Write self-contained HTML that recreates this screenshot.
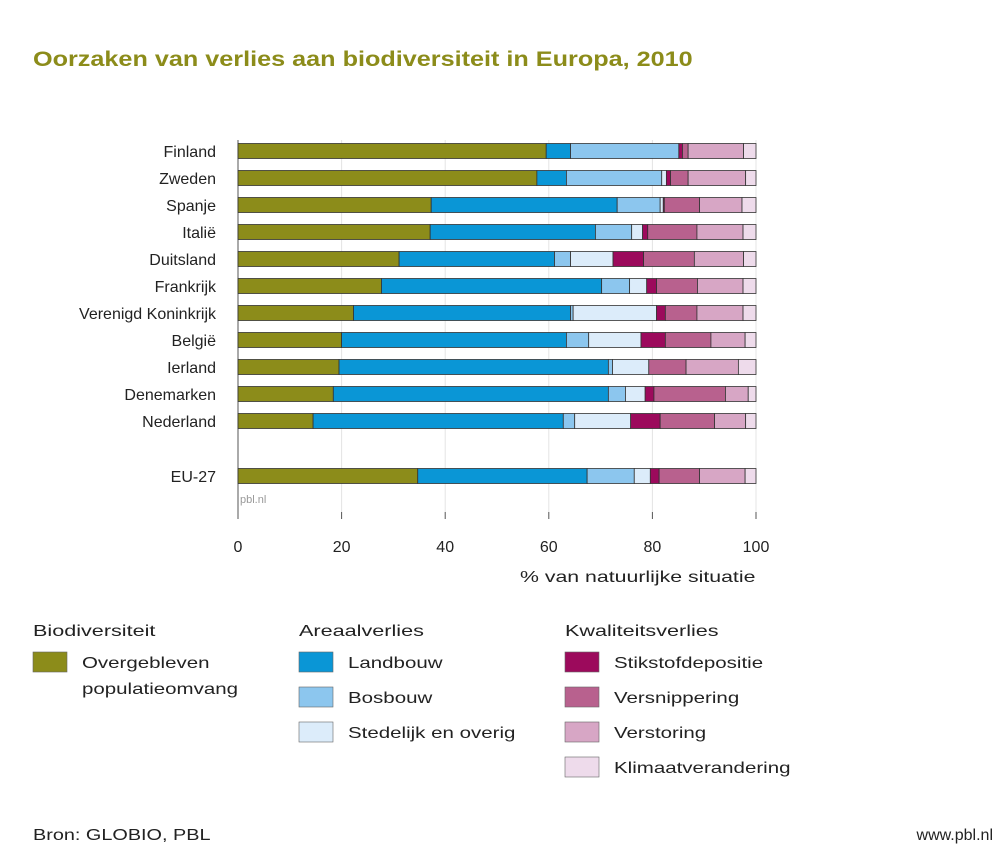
<!DOCTYPE html>
<html><head><meta charset="utf-8"><style>
body{margin:0;background:#fff;width:1003px;height:858px;overflow:hidden;font-family:"Liberation Sans","DejaVu Sans",sans-serif;}
svg text{font-family:"Liberation Sans","DejaVu Sans",sans-serif;}
</style></head><body>
<svg id="c" width="1003" height="858">
<text class="w" data-f="1.2" x="33" y="66" font-size="21" font-weight="bold" fill="#8c8c1a">Oorzaken van verlies aan biodiversiteit in Europa, 2010</text>
<g id="grid"></g><g id="bars"></g><g id="axis"></g><g id="legend"></g>
<text x="240" y="503" font-size="11" fill="#999">pbl.nl</text>
<text class="w" data-f="1.33" x="520" y="582" font-size="16" fill="#222">% van natuurlijke situatie</text>
<text class="w" data-f="1.24" x="33" y="840" font-size="16" fill="#222">Bron: GLOBIO, PBL</text>
<text x="993" y="840" font-size="16" text-anchor="end" fill="#222">www.pbl.nl</text>
</svg>
<script>
const countries=["Finland","Zweden","Spanje","Italië","Duitsland","Frankrijk","Verenigd Koninkrijk","België","Ierland","Denemarken","Nederland","EU-27"];
const overgebleven=[59.5,57.7,37.3,37.1,31.1,27.7,22.3,20.0,19.5,18.4,14.5,34.7];
const landbouw=[4.7,5.7,35.9,31.9,30.0,42.5,41.9,43.4,52.0,53.1,48.3,32.7];
const bosbouw=[20.9,18.4,8.3,7.0,3.1,5.4,0.5,4.3,0.8,3.3,2.2,9.1];
const stedelijk=[0,0.9,0.6,2.1,8.2,3.3,16.1,10.1,7.0,3.8,10.8,3.1];
const stikstof=[0.7,0.8,0.2,1.0,5.9,1.9,1.7,4.7,0,1.7,5.7,1.7];
const versnippering=[1.1,3.4,6.8,9.5,9.8,7.9,6.1,8.8,7.2,13.8,10.5,7.8];
const verstoring=[10.7,11.1,8.2,8.9,9.5,8.8,8.9,6.6,10.1,4.4,6.0,8.8];
const klimaat=[2.4,2.0,2.7,2.5,2.4,2.5,2.5,2.1,3.4,1.5,2.0,2.1];
const ticks=[0,20,40,60,80,100];
const series=[overgebleven,landbouw,bosbouw,stedelijk,stikstof,versnippering,verstoring,klimaat];
const seriesNames=["overgebleven","landbouw","bosbouw","stedelijk","stikstof","versnippering","verstoring","klimaat"];
const colors=["#8c8c1a","#0a96d6","#8cc6ee","#dcecfa","#9c0a5c","#b8618e","#d7a6c5","#eedbeb"];
const NS="http://www.w3.org/2000/svg";
const X0=238,X1=756,x=v=>X0+(X1-X0)*v/100;
const yc=i=>i<11?151+27*i:476;
const BH=15;
function mk(t,a,p){const e=document.createElementNS(NS,t);for(const k in a)e.setAttribute(k,a[k]);p.appendChild(e);return e;}
const grid=document.getElementById('grid'),bars=document.getElementById('bars'),axis=document.getElementById('axis'),leg=document.getElementById('legend');
ticks.forEach(t=>{
 const l=mk('line',{x1:x(t),x2:x(t),y1:140,y2:512,stroke:t==0?'#555':'#e4e4e4','stroke-width':1},grid);
 
 
 const tl=mk('line',{x1:x(t),x2:x(t),y1:512,y2:519,stroke:'#555'},axis);
 
 
 const tx=mk('text',{x:x(t),y:552,'font-size':16,'text-anchor':'middle',fill:'#222'},axis);
 tx.textContent=t;
 
 
});
countries.forEach((c,i)=>{
 const lab=mk('text',{x:216,y:yc(i)+6,'font-size':16,'text-anchor':'end',fill:'#222'},bars);
 lab.textContent=c;
 
 
 let acc=0;
 series.forEach((s,k)=>{
  const v=s[i];
  const r=mk('rect',{x:x(acc),y:yc(i)-BH/2,width:Math.max(0,x(acc+v)-x(acc)),height:BH,fill:colors[k],stroke:'#333','stroke-width':0.8},bars);
  
  
  acc+=v;
 });
});
const legItems=[
 [33,"Biodiversiteit",[[0,"Overgebleven","populatieomvang"]]],
 [299,"Areaalverlies",[[1,"Landbouw"],[2,"Bosbouw"],[3,"Stedelijk en overig"]]],
 [565,"Kwaliteitsverlies",[[4,"Stikstofdepositie"],[5,"Versnippering"],[6,"Verstoring"],[7,"Klimaatverandering"]]]
];
legItems.forEach(([lx,title,items])=>{
 const t=mk('text',{x:lx,y:636,'font-size':16,fill:'#222','class':'w','data-f':'1.35'},leg);
 t.textContent=title;
 
 
 items.forEach((it,j)=>{
  const y=652+j*35;
  const r=mk('rect',{x:lx,y:y,width:34,height:20,fill:colors[it[0]],stroke:'#666','stroke-width':0.6},leg);
  
  
  const tt=mk('text',{x:lx+49,y:y+16,'font-size':16,fill:'#222','class':'w','data-f':'1.28'},leg);
  tt.textContent=it[1];
  
  
  if(it[2]){const t2=mk('text',{x:lx+49,y:y+42,'font-size':16,fill:'#222','class':'w','data-f':'1.28'},leg);t2.textContent=it[2];
   
   }
 });
});
document.querySelectorAll('text.w').forEach(t=>{
 const f=parseFloat(t.getAttribute('data-f'));
 const w=t.getComputedTextLength();
 t.setAttribute('textLength',(w*f).toFixed(1));
 t.setAttribute('lengthAdjust','spacingAndGlyphs');
});
</script>
</body></html>
